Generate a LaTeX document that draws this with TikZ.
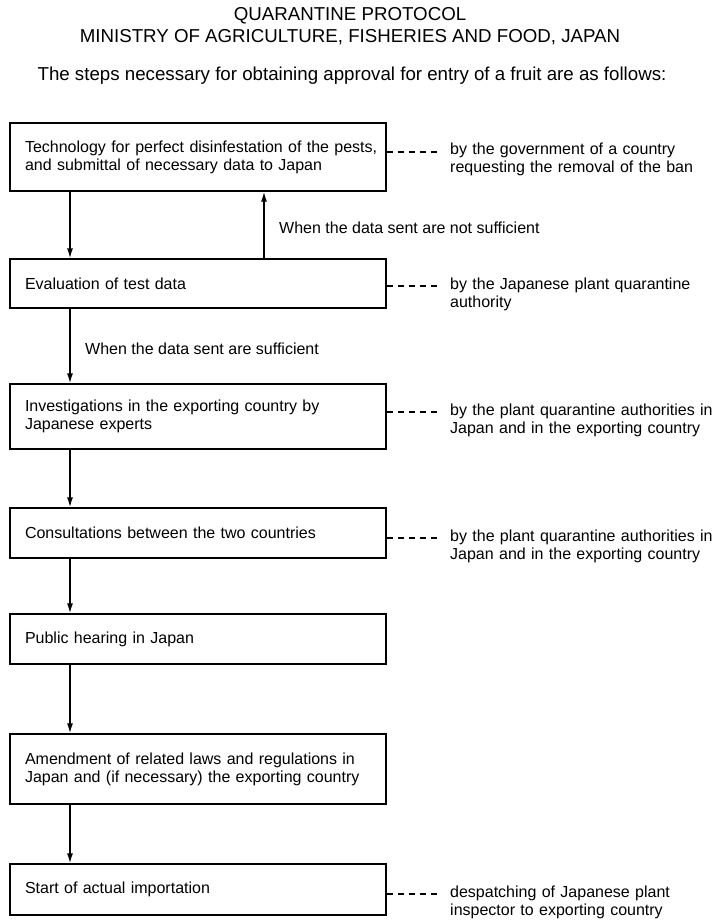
\documentclass[tikz,border=0pt]{standalone}
\usepackage{fontspec}
\setmainfont{Liberation Sans}
\usetikzlibrary{arrows.meta,calc}
\begin{document}
\begin{tikzpicture}[x=1pt,y=-1pt,
  stepbox/.style={draw, line width=1.3pt, rectangle, minimum width=376pt, text width=346pt,
    inner xsep=15pt, inner ysep=0pt, align=left, font=\fontsize{16}{18}\selectfont},
  side/.style={anchor=base west, inner sep=0pt, text width=270pt, align=left,
    font=\fontsize{16}{18}\selectfont},
  lbl/.style={anchor=base west, inner sep=0pt, font=\fontsize{16}{18}\selectfont},
  head/.style={anchor=base, inner sep=0pt, font=\fontsize{18.7}{22}\selectfont},
  arr/.style={line width=1.5pt, -{Latex[length=10pt,width=6pt]}},
  dashline/.style={line width=2pt, dash pattern=on 6pt off 5pt}
]
\fill[white] (0,0) rectangle (713,920);
\useasboundingbox (0,0) rectangle (713,920);

% header
\node[head] (h1) at (350,21) {QUARANTINE PROTOCOL};
\node[head] (h2) at (350,43) {MINISTRY OF AGRICULTURE, FISHERIES AND FOOD, JAPAN};
\node[head] (h3) at (352,81) {The steps necessary for obtaining approval for entry of a fruit are as follows:};

% boxes
\node[stepbox, minimum height=68pt] (b1) at (198,157)
  {\mbox{Technology for perfect disinfestation of the pests,}\\ and submittal of necessary data to Japan};
\node[stepbox, minimum height=49pt] (b2) at (198,283.5) {Evaluation of test data};
\node[stepbox, minimum height=65pt] (b3) at (198,416.5)
  {Investigations in the exporting country by\\ Japanese experts};
\node[stepbox, minimum height=50pt] (b4) at (198,533) {Consultations between the two countries};
\node[stepbox, minimum height=50pt] (b5) at (198,639) {Public hearing in Japan};
\node[stepbox, minimum height=70pt] (b6) at (198,769)
  {Amendment of related laws and regulations in\\ Japan and (if necessary) the exporting country};
\node[stepbox, minimum height=51pt] (b7) at (198,889.5) {Start of actual importation};

% side texts
\node[side] (r1) at (450,155) {by the government of a country\\ requesting the removal of the ban};
\node[side] (r2) at (450,289) {by the Japanese plant quarantine\\ authority};
\node[side] (r3) at (450,415) {by the plant quarantine authorities in\\ Japan and in the exporting country};
\node[side] (r4) at (450,541) {by the plant quarantine authorities in\\ Japan and in the exporting country};
\node[side] (r7) at (450,897) {despatching of Japanese plant\\ inspector to exporting country};

% dashed links
\foreach \b/\r in {b1/r1, b2/r2, b3/r3, b4/r4, b7/r7}{
  \draw[dashline] ($(\b.east |- \r.base west)+(0,-3)$) -- ($(\r.base west)+(-13,-3)$);
}

% arrow labels
\node[lbl] (l1) at (279,233) {When the data sent are not sufficient};
\node[lbl] (l2) at (85,354) {When the data sent are sufficient};

% arrows
\coordinate (ax) at (70,0);
\coordinate (ux) at (264,0);
\draw[arr] (b1.south -| ax) -- (b2.north -| ax);
\draw[arr] (b2.north -| ux) -- (b1.south -| ux);
\draw[arr] (b2.south -| ax) -- (b3.north -| ax);
\draw[arr] (b3.south -| ax) -- (b4.north -| ax);
\draw[arr] (b4.south -| ax) -- (b5.north -| ax);
\draw[arr] (b5.south -| ax) -- (b6.north -| ax);
\draw[arr] (b6.south -| ax) -- (b7.north -| ax);
\end{tikzpicture}
\end{document}
